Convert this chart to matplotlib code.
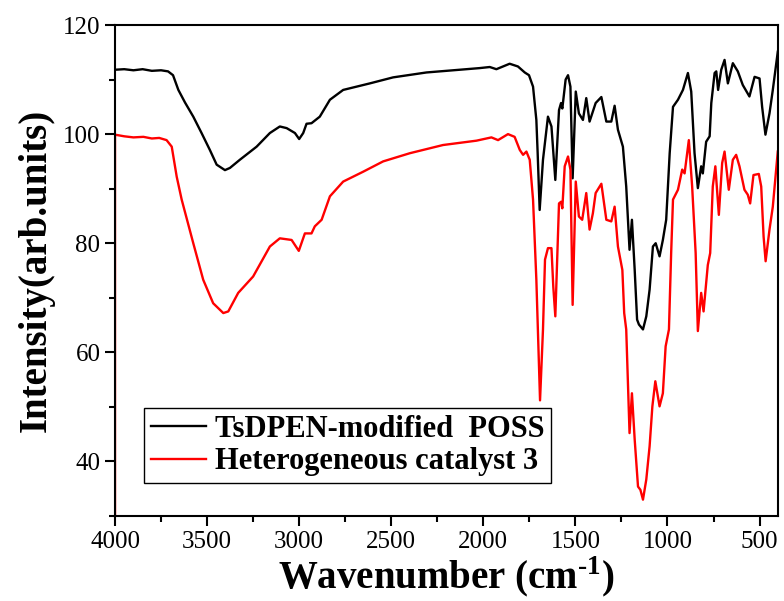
import numpy as np
import matplotlib
matplotlib.use('Agg')
import matplotlib.pyplot as plt
from matplotlib.ticker import MultipleLocator

#---------------------------------------------------------------------
# FTIR spectra
#---------------------------------------------------------------------
poss_label = 'TsDPEN-modified  POSS'
cat_label = 'Heterogeneous catalyst 3'

poss_wn = [4000, 3950, 3900, 3850, 3800, 3750, 3712, 3685, 3656, 3620, 3575, 3530,
           3485, 3448, 3403, 3376, 3322, 3231, 3159, 3105, 3068, 3023, 3000, 2978,
           2960, 2933, 2888, 2833, 2761, 2616, 2490, 2309, 2128, 2020, 1965, 1929,
           1857, 1812, 1775, 1752, 1730, 1712, 1705, 1694, 1676, 1649, 1630, 1609,
           1589, 1578, 1571, 1553, 1540, 1527, 1515, 1498, 1481, 1459, 1441, 1423,
           1390, 1359, 1332, 1305, 1287, 1269, 1242, 1224, 1206, 1193, 1178, 1165,
           1155, 1133, 1115, 1097, 1079, 1064, 1043, 1025, 1007, 988, 970, 943,
           916, 889, 871, 853, 835, 817, 808, 790, 771, 762, 744, 735,
           725, 708, 690, 672, 645, 618, 591, 555, 527, 500, 486, 468,
           446, 428, 401]
poss_int = [111.8, 111.9, 111.7, 111.9, 111.6, 111.7, 111.5, 110.8, 108.1, 105.8, 103.2, 100.2,
            97.1, 94.4, 93.4, 93.8, 95.3, 97.7, 100.2, 101.4, 101.1, 100.2, 99.1, 100.2,
            101.9, 102.0, 103.2, 106.3, 108.1, 109.3, 110.4, 111.3, 111.8, 112.1, 112.3, 111.9,
            112.9, 112.4, 111.3, 110.8, 108.7, 102.6, 96.6, 86.1, 95.3, 103.2, 101.4, 91.6,
            104.4, 105.7, 104.7, 110.0, 110.8, 108.7, 91.9, 107.8, 103.8, 102.6, 106.6, 102.3,
            105.7, 106.8, 102.3, 102.3, 105.2, 100.8, 97.7, 90.4, 78.8, 84.3, 75.1, 66.0,
            65.1, 64.2, 66.6, 71.5, 79.4, 80.0, 77.6, 80.6, 84.3, 96.5, 105.0, 106.3,
            108.1, 111.2, 107.8, 96.5, 90.1, 94.1, 92.8, 98.6, 99.6, 105.7, 111.2, 111.5,
            108.1, 111.8, 113.6, 109.3, 113.0, 111.5, 109.0, 106.9, 110.5, 110.2, 105.0, 99.9,
            103.8, 108.1, 115.1]

cat_wn = [4000, 4000, 3950, 3900, 3846, 3800, 3760, 3720, 3692, 3665, 3638, 3575,
          3521, 3467, 3412, 3385, 3331, 3250, 3159, 3105, 3041, 3002, 2969, 2933,
          2915, 2878, 2833, 2761, 2653, 2544, 2399, 2219, 2037, 1956, 1920, 1866,
          1830, 1802, 1784, 1766, 1748, 1730, 1712, 1692, 1676, 1665, 1649, 1630,
          1620, 1609, 1589, 1578, 1571, 1558, 1540, 1527, 1515, 1498, 1481, 1463,
          1441, 1423, 1405, 1390, 1359, 1332, 1305, 1287, 1269, 1245, 1235, 1224,
          1206, 1193, 1178, 1160, 1147, 1133, 1115, 1097, 1082, 1066, 1043, 1025,
          1010, 992, 980, 970, 943, 920, 907, 884, 866, 847, 835, 817,
          804, 781, 768, 754, 740, 721, 703, 690, 667, 645, 627, 609,
          582, 564, 551, 533, 504, 491, 478, 467, 446, 428, 401]
cat_int = [30.0, 99.9, 99.6, 99.4, 99.5, 99.2, 99.3, 98.9, 97.7, 92.2, 88.0, 80.0,
           73.3, 69.0, 67.2, 67.5, 70.9, 73.9, 79.4, 80.9, 80.6, 78.6, 81.8, 81.8,
           83.1, 84.3, 88.6, 91.3, 93.1, 95.0, 96.5, 98.0, 98.8, 99.4, 98.9, 100.0,
           99.5, 97.1, 96.2, 96.8, 95.3, 88.0, 73.3, 51.2, 64.2, 77.0, 79.1, 79.1,
           72.0, 66.6, 87.3, 87.6, 86.4, 94.1, 95.9, 93.5, 68.7, 91.3, 84.9, 84.3,
           89.2, 82.5, 85.5, 89.2, 90.9, 84.3, 84.0, 86.7, 79.4, 75.1, 67.2, 64.2,
           45.2, 52.5, 44.0, 35.4, 34.8, 33.0, 36.7, 42.8, 50.1, 54.7, 50.1, 52.5,
           61.1, 64.2, 78.2, 88.0, 89.8, 93.5, 92.8, 98.9, 90.4, 78.2, 63.9, 70.9,
           67.5, 76.0, 78.2, 90.4, 94.1, 85.2, 94.7, 96.8, 89.8, 95.3, 96.2, 94.1,
           89.8, 88.9, 87.3, 92.5, 92.7, 90.4, 81.2, 76.7, 82.5, 86.7, 96.8]

plt.rcParams['font.family'] = ['Liberation Serif', 'DejaVu Serif']
plt.rcParams['mathtext.fontset'] = 'custom'
plt.rcParams['mathtext.rm'] = 'Liberation Serif:bold'
plt.rcParams['mathtext.bf'] = 'Liberation Serif:bold'

fig = plt.figure(figsize=[7.84, 6.01], dpi=100)
ax = fig.add_axes([0.1467, 0.1414, 0.8456, 0.817])

ax.plot(poss_wn, poss_int, color='black', lw=1.7, label=poss_label)
ax.plot(cat_wn, cat_int, color='red', lw=1.7, label=cat_label)

ax.set_xlim(4000, 400)
ax.set_ylim(30, 120)
ax.xaxis.set_major_locator(MultipleLocator(500))
ax.xaxis.set_minor_locator(MultipleLocator(250))
ax.yaxis.set_major_locator(MultipleLocator(20))
ax.yaxis.set_minor_locator(MultipleLocator(10))
ax.tick_params(which='both', direction='out', top=False, right=False, width=1.5, labelsize=18)
ax.tick_params(which='major', length=7)
ax.tick_params(which='minor', length=4)
for s in ax.spines.values():
    s.set_linewidth(1.5)

ax.set_xlabel(r'Wavenumber (cm$^{\text{-1}}$)', fontsize=28, fontweight='bold', labelpad=2)
ax.set_ylabel('Intensity(arb.units)', fontsize=28, fontweight='bold', labelpad=6)

leg = ax.legend(loc='lower left', bbox_to_anchor=(0.044, 0.067), borderaxespad=0,
                fancybox=False, edgecolor='black', framealpha=1,
                prop={'size': 22, 'weight': 'bold'}, handlelength=1.8,
                handletextpad=0.3, borderpad=0.22, labelspacing=0.12)
leg.get_frame().set_linewidth(1.0)

fig.savefig('out.png', dpi=100)
